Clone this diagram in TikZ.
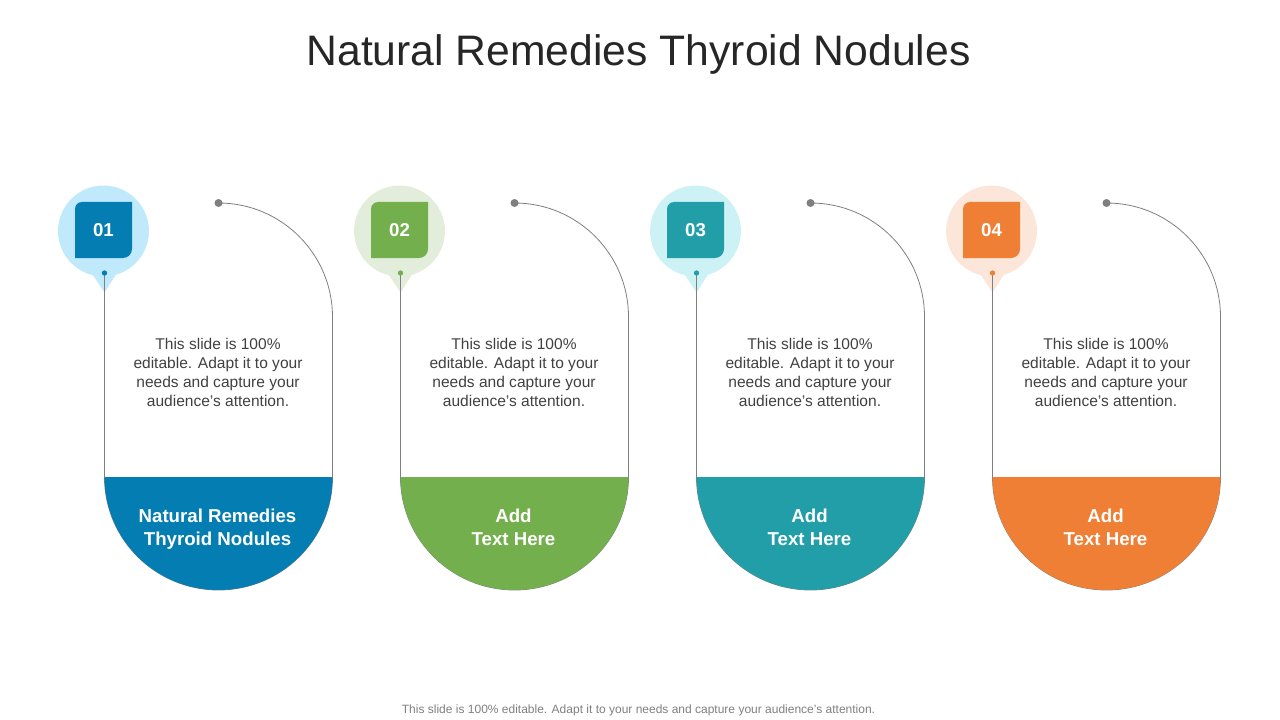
\documentclass[tikz,border=0pt]{standalone}
\usepackage{fontspec}
\setmainfont{Liberation Sans}
\definecolor{inkgrey}{HTML}{7F7F7F}
\definecolor{titleink}{HTML}{262626}
\definecolor{bodyink}{HTML}{404040}
\definecolor{footink}{HTML}{7F7F7F}
\definecolor{bluedark}{HTML}{047DB3}
\definecolor{bluelight}{HTML}{C0E9FB}
\definecolor{greendark}{HTML}{74AF4D}
\definecolor{greenlight}{HTML}{E3EDDB}
\definecolor{tealdark}{HTML}{219EA8}
\definecolor{teallight}{HTML}{CDF2F5}
\definecolor{orangedark}{HTML}{EE7F35}
\definecolor{orangelight}{HTML}{FCE6D9}
\tikzset{
	outline/.style={draw=inkgrey, line width=0.6pt},
	pindot/.style={circle, inner sep=0pt, minimum size=4pt},
	enddot/.style={circle, inner sep=0pt, minimum size=6pt, fill=inkgrey},
	bodytext/.style={align=center, text=bodyink, font=\fontsize{11.65}{14.25}\selectfont},
	bandtext/.style={align=center, anchor=north, text=white, font=\fontsize{14}{17.25}\selectfont\bfseries},
	numtext/.style={text=white, font=\fontsize{14}{17}\selectfont\bfseries}
}
\begin{document}
\begin{tikzpicture}[x=0.75pt, y=-0.75pt]
		\useasboundingbox (0, 0) rectangle (1280, 720);
		
		\node[text=titleink, font=\fontsize{32}{38}\selectfont] (title) at (638.5, 54.5) {Natural Remedies Thyroid Nodules};
		
		\foreach \i/\dark/\light/\num/\band in {
			0/bluedark/bluelight/01/{Natural Remedies\\Thyroid Nodules},
			1/greendark/greenlight/02/{Add\\Text Here},
			2/tealdark/teallight/03/{Add\\Text Here},
			3/orangedark/orangelight/04/{Add\\Text Here}}
		{
			\begin{scope}[xshift=\i*222pt]
				% pin behind the number
				\fill[\light] (103.5, 231) circle (34.1pt);
				\fill[\light] (104.5, 292.5) -- (91.5, 273) -- (117, 273) -- cycle;
				
				% number square
				\fill[\dark] (75, 258) -- (75, 209) arc (180:90:5.25pt) -- (132, 202) -- (132, 249) arc (0:-90:6.75pt) -- cycle;
				\node[numtext] (num\i) at (103.5, 230.5) {\num};
				
				% outline
				\coordinate (bandleft\i) at (104.5, 477);
				\coordinate (bandright\i) at (332.5, 477);
				\coordinate (pinfoot\i) at (104.5, 273);
				\coordinate (endfoot\i) at (218.5, 203);
				\draw[outline] (pinfoot\i) -- (bandleft\i) arc (180:360:85.5pt and 84.75pt) -- (332.5, 317) arc (0:90:85.5pt) -- (endfoot\i);
				
				% band at the foot
				\fill[\dark] (bandleft\i) arc (180:360:85.5pt and 84.75pt) -- cycle;
				
				\node[pindot, fill=\dark] (pin\i) at (pinfoot\i) {};
				\node[enddot] (end\i) at (endfoot\i) {};
				
				\node[bodytext] (body\i) at (218, 372.5) {This slide is 100\%\\editable. Adapt it to your\\needs and capture your\\audience's attention.};
				\node[bandtext] (band\i) at (217.5, 504.5) {\band};
			\end{scope}
		}
		
		\node[text=footink, font=\fontsize{9}{11}\selectfont] (foot) at (638.5, 710) {This slide is 100\% editable. Adapt it to your needs and capture your audience’s attention.};
\end{tikzpicture}
\end{document}
